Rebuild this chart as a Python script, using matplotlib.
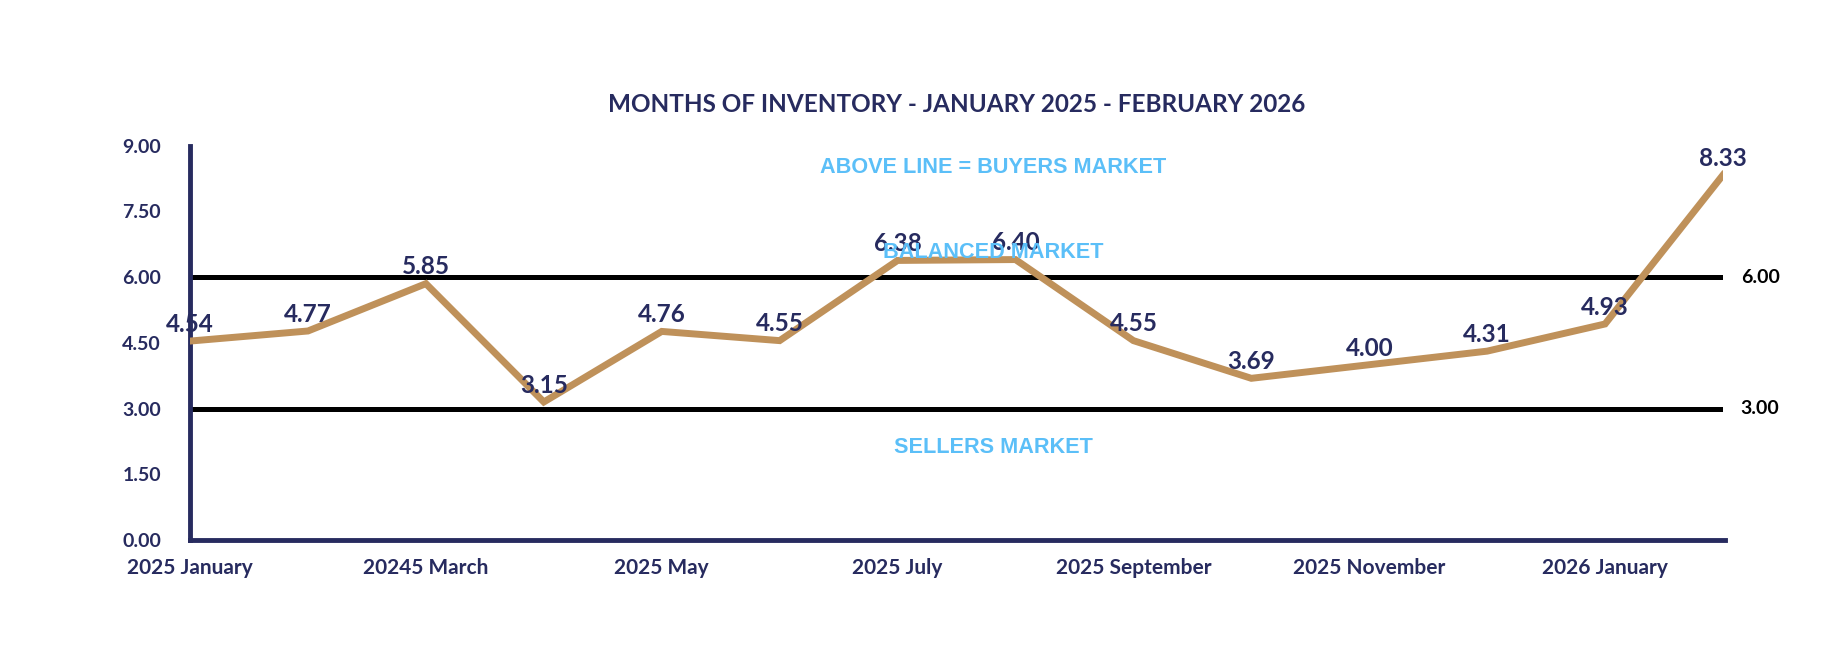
import matplotlib
matplotlib.use('Agg')
import matplotlib.pyplot as plt

months = ['2025 January', '2025 February', '20245 March', '2025 April', '2025 May', '2025 June',
          '2025 July', '2025 August', '2025 September', '2025 October', '2025 November',
          '2025 December', '2026 January', '2026 February']
inventory = [4.54, 4.77, 5.85, 3.15, 4.76, 4.55, 6.38, 6.40, 4.55, 3.69, 4.00, 4.31, 4.93, 8.33]
thresholds = [6.0, 3.0]
zones = [('ABOVE LINE = BUYERS MARKET', 8.49), ('BALANCED MARKET', 6.57), ('SELLERS MARKET', 2.12)]
yticks = [0, 1.5, 3, 4.5, 6, 7.5, 9]

NAVY = '#272b5f'
BLUE = '#5bbff8'
TAN = '#bf915a'
plt.rcParams['font.family'] = ['Lato', 'DejaVu Sans']

fig = plt.figure(figsize=(18.4, 6.68), dpi=100)
ax = fig.add_axes([0.1033, 0.1916, 0.8331, 0.5904])
x = list(range(len(months)))

for t in thresholds:
    ax.plot([x[0], x[-1]], [t, t], color='black', lw=3.6, solid_capstyle='butt', zorder=2)
    ax.text(x[-1] + 0.15, t, f'{t:.2f}', color='black', fontsize=14, fontweight='bold',
            ha='left', va='center')

ax.plot(x, inventory, color=TAN, lw=5, solid_joinstyle='miter', zorder=3)
for xi, v in zip(x, inventory):
    ax.annotate(f'{v:.2f}', (xi, v), xytext=(0, 12), textcoords='offset points',
                ha='center', va='center', color=NAVY, fontsize=17.5, fontweight='bold', zorder=4)

for label, y in zones:
    ax.text(6.81, y, label, color=BLUE, fontsize=15.6, fontweight='bold', ha='center', va='center',
            family=['Liberation Sans', 'DejaVu Sans'], zorder=5)

ax.set_xlim(0, 13)
ax.set_ylim(0, 9)
ax.set_yticks(yticks)
ax.set_yticklabels([f'{v:.2f}' for v in yticks])
ax.set_xticks(x[::2])
ax.set_xticklabels(months[::2])
ax.tick_params(axis='y', length=0, pad=21, labelsize=14, labelcolor=NAVY)
ax.tick_params(axis='x', length=0, pad=13, labelsize=15, labelcolor=NAVY)
for lab in ax.get_xticklabels() + ax.get_yticklabels():
    lab.set_fontweight('bold')
for s in ['top', 'right']:
    ax.spines[s].set_visible(False)
for s in ['left', 'bottom']:
    ax.spines[s].set_color(NAVY)
    ax.spines[s].set_linewidth(3.5)
ax.spines['bottom'].set_bounds(0, 13.02)

fig.text(0.52, 0.843, 'MONTHS OF INVENTORY - JANUARY 2025 - FEBRUARY 2026', ha='center', va='center',
         color=NAVY, fontsize=17.5, fontweight='bold')

fig.savefig('out.png', dpi=100)
